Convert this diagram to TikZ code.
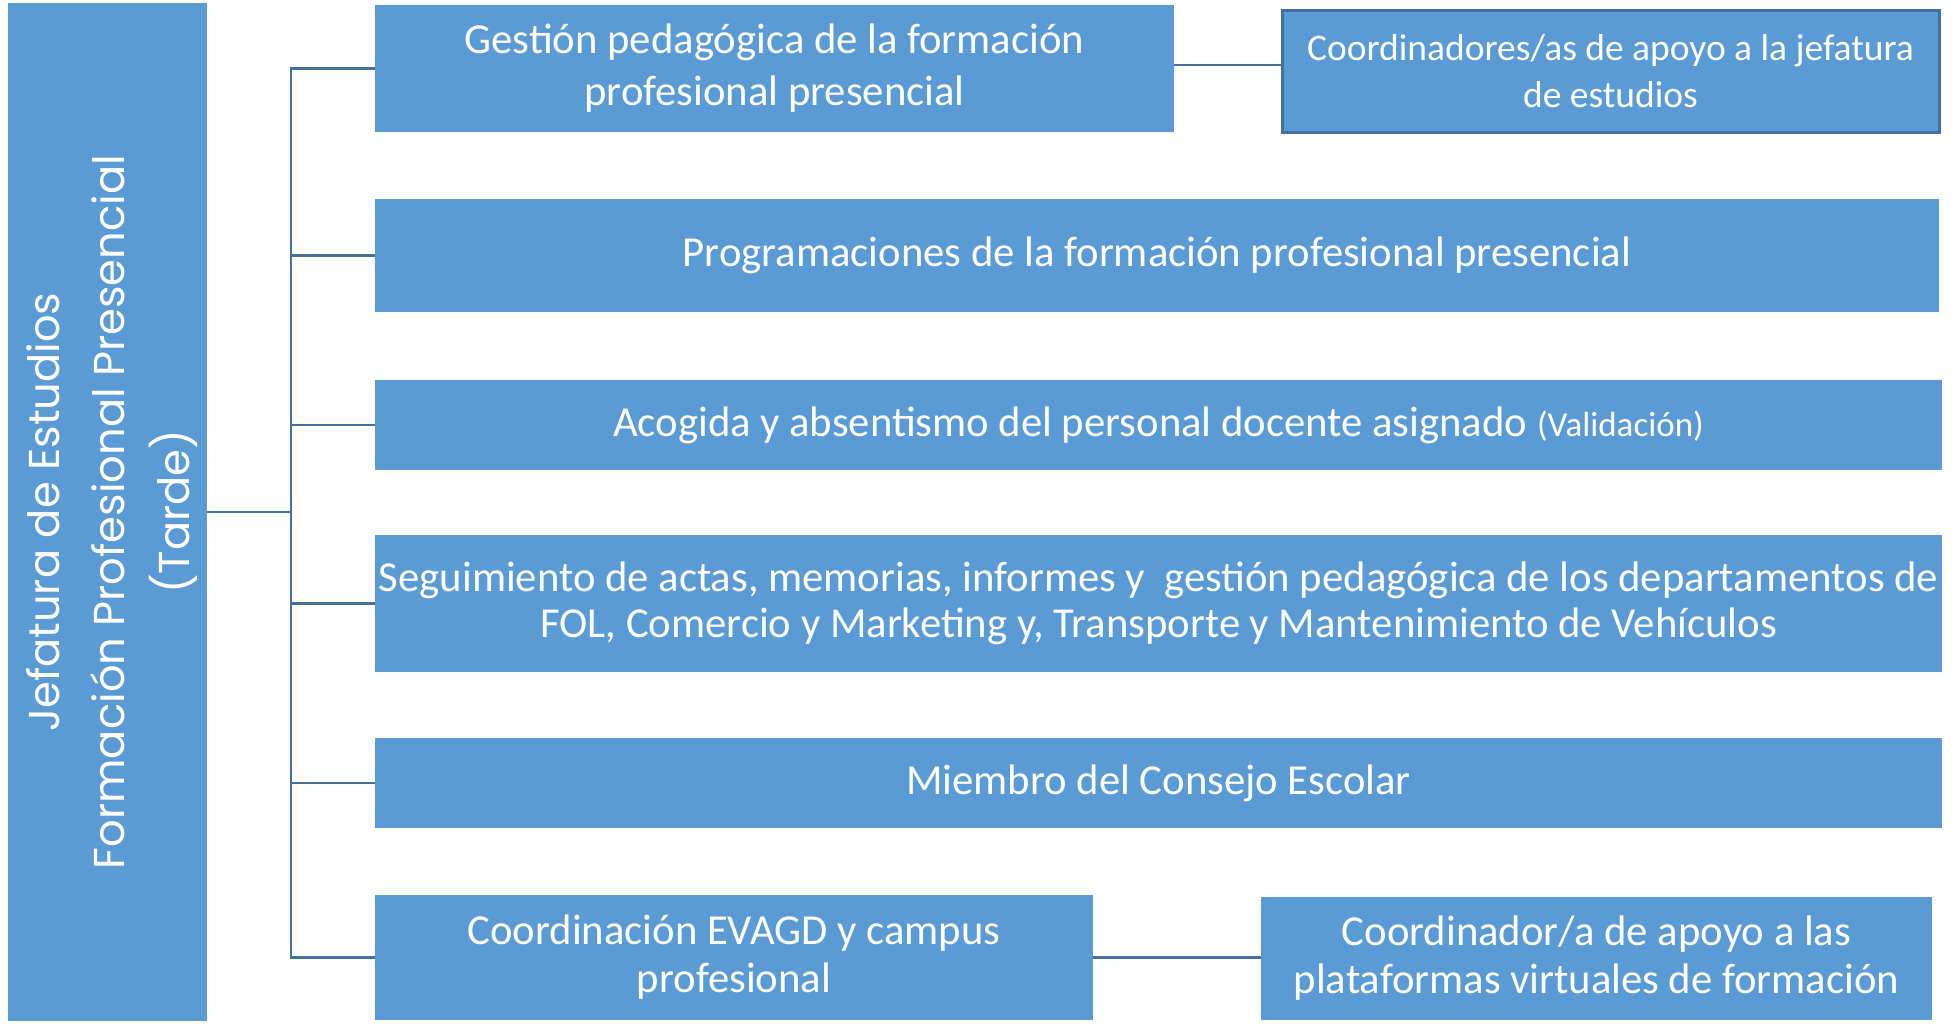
\documentclass[tikz,border=0pt]{standalone}
\usepackage{fontspec}
\setmainfont{Carlito}
\newfontfamily\headfont{Poppins}
\definecolor{boxblue}{HTML}{5B9BD5}
\definecolor{lineblue}{HTML}{41719C}
\tikzset{
  box/.style={rectangle, fill=boxblue, text=white, align=center, inner sep=0pt,
    font=\fontsize{42.7}{48}\selectfont},
  link/.style={draw=lineblue, line width=2.5pt}
}
\begin{document}
\begin{tikzpicture}[x=1pt,y=-1pt]
    \useasboundingbox (0,0) rectangle (1959,1023);
    \node[box, minimum width=199pt, minimum height=1018pt] (jefe) at (107,512) {};
    \node[text=white, rotate=90, align=center, font=\headfont\fontsize{43.2}{65}\selectfont] (jefetxt) at (112,512)
        {Jefatura de Estudios\\Formación Profesional Presencial\\(Tarde)};
    \node[box, minimum width=799pt, minimum height=127pt, font=\fontsize{42.7}{52}\selectfont] (gest) at (774.5,68.5)
        {Gestión pedagógica de la formación\\profesional presencial};
    \node[box, draw=lineblue, line width=3pt, minimum width=657pt, minimum height=122pt,
        font=\fontsize{37.5}{47}\selectfont] (apoyo) at (1610.5,71)
        {Coordinadores/as de apoyo a la jefatura\\de estudios};
    \node[box, minimum width=1564pt, minimum height=113pt] (prog) at (1157,255.5)
        {Programaciones de la formación profesional presencial};
    \node[box, minimum width=1567pt, minimum height=90pt] (acog) at (1158.5,425)
        {Acogida y absentismo del personal docente asignado {\fontsize{35}{40}\selectfont(Validación)}};
    \node[box, minimum width=1567pt, minimum height=137pt, font=\fontsize{42.7}{46}\selectfont] (segu) at (1158.5,603.5)
        {Seguimiento de actas, memorias, informes y~ gestión pedagógica de los departamentos de\\FOL, Comercio y Marketing y, Transporte y Mantenimiento de Vehículos};
    \node[box, minimum width=1567pt, minimum height=90pt] (miem) at (1158.5,783)
        {Miembro del Consejo Escolar};
    \node[box, minimum width=718pt, minimum height=125pt] (evagd) at (734,957.5)
        {Coordinación EVAGD y campus\\profesional};
    \node[box, minimum width=671pt, minimum height=123pt] (plat) at (1596.5,958.5)
        {Coordinador/a de apoyo a las\\plataformas virtuales de formación};
    % trunk and branches
    \coordinate (bus) at (291,512);
    \coordinate (gestout) at (gest.east |- 0,65);
    \draw[link] (jefe.east) -- (bus);
    \foreach \n in {gest,prog,acog,segu,miem,evagd}
        \draw[link] (bus) |- (\n.west);
    \draw[link] (gestout) -- (gestout -| apoyo.west);
    \draw[link] (evagd.east) -- (evagd.east -| plat.west);
\end{tikzpicture}
\end{document}
